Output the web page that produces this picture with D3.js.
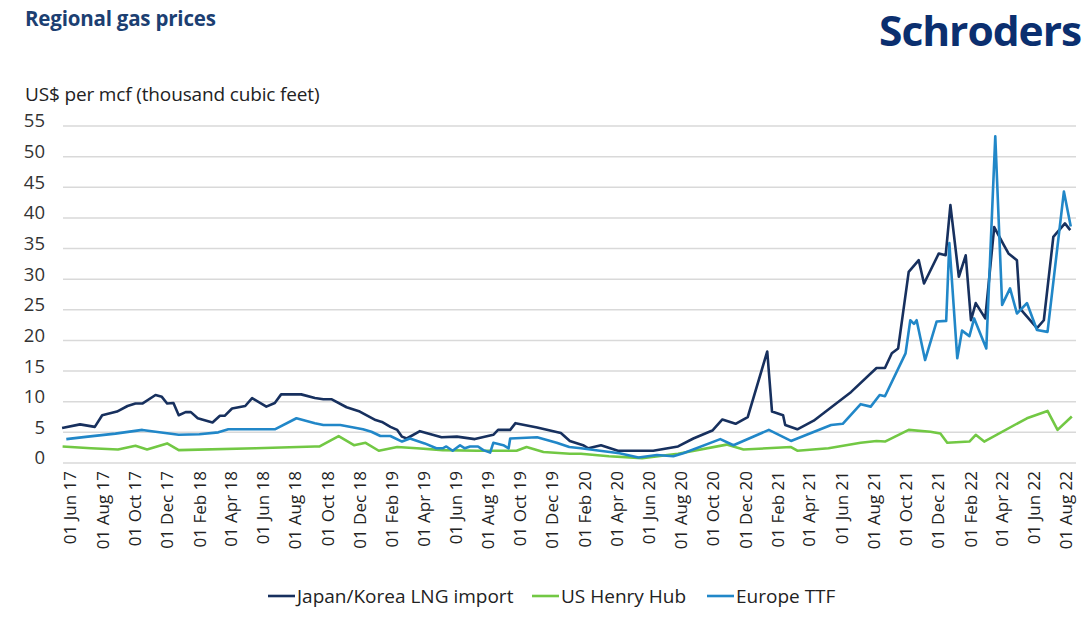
<!DOCTYPE html>
<html>
<head>
<meta charset="utf-8">
<script src="https://cdn.jsdelivr.net/npm/d3@7"></script>
<style>
  html, body { margin: 0; padding: 0; background: #fff; }
  svg { display: block; font-family: "Open Sans", "Noto Sans", sans-serif; }
</style>
</head>
<body>
<svg id="chart" width="1090" height="620"></svg>
<script>
// ---------- DATA ----------
const japanKorea = [
  ["2017-05-17",5.7],["2017-06-20",6.3],["2017-07-18",5.9],["2017-08-01",7.8],["2017-08-29",8.4],
  ["2017-09-18",9.3],["2017-10-03",9.7],["2017-10-16",9.7],["2017-11-10",11.1],["2017-11-22",10.8],
  ["2017-12-02",9.7],["2017-12-14",9.8],["2017-12-24",7.8],["2018-01-06",8.3],["2018-01-16",8.3],
  ["2018-01-29",7.3],["2018-02-26",6.6],["2018-03-12",7.7],["2018-03-21",7.7],["2018-04-04",8.9],
  ["2018-04-29",9.3],["2018-05-12",10.6],["2018-06-08",9.2],["2018-06-24",9.8],["2018-07-06",11.2],
  ["2018-08-13",11.2],["2018-09-08",10.6],["2018-09-24",10.4],["2018-10-10",10.4],["2018-11-07",9.1],
  ["2018-12-02",8.4],["2019-01-01",7.0],["2019-01-13",6.7],["2019-01-29",5.9],["2019-02-11",5.4],
  ["2019-02-20",4.3],["2019-03-01",4.0],["2019-03-26",5.2],["2019-05-06",4.2],["2019-06-04",4.3],
  ["2019-07-08",3.9],["2019-08-12",4.6],["2019-08-21",5.4],["2019-09-13",5.4],["2019-09-23",6.5],
  ["2019-11-03",5.8],["2019-12-18",4.9],["2020-01-04",3.6],["2020-01-29",2.9],["2020-02-08",2.4],
  ["2020-03-03",2.9],["2020-04-04",2.0],["2020-06-10",2.0],["2020-07-27",2.7],["2020-08-25",4.0],
  ["2020-09-30",5.3],["2020-10-19",7.1],["2020-11-13",6.4],["2020-12-06",7.5],["2021-01-12",18.2],
  ["2021-01-21",8.4],["2021-02-11",7.8],["2021-02-15",6.2],["2021-03-10",5.5],["2021-04-10",6.9],
  ["2021-06-20",11.6],["2021-08-07",15.5],["2021-08-23",15.5],["2021-09-05",17.9],["2021-09-17",18.7],
  ["2021-10-07",31.2],["2021-10-26",33.1],["2021-11-05",29.3],["2021-12-03",34.2],["2021-12-16",33.9],
  ["2021-12-25",42.1],["2022-01-10",30.4],["2022-01-23",33.9],["2022-02-02",23.3],["2022-02-11",26.1],
  ["2022-03-01",23.6],["2022-03-18",38.5],["2022-04-05",35.6],["2022-04-14",34.2],["2022-04-30",33.1],
  ["2022-05-06",25.2],["2022-05-22",23.6],["2022-06-07",22.0],["2022-06-20",23.3],["2022-07-08",36.9],
  ["2022-07-30",39.1],["2022-08-09",38.0]
];
const henryHub = [
  ["2017-05-18",2.7],["2017-07-11",2.4],["2017-08-31",2.2],["2017-10-03",2.8],["2017-10-25",2.2],
  ["2017-12-02",3.2],["2017-12-24",2.1],["2018-05-19",2.4],["2018-09-08",2.7],["2018-09-17",2.7],
  ["2018-10-23",4.4],["2018-11-21",2.9],["2018-12-13",3.3],["2019-01-07",2.0],["2019-02-11",2.6],
  ["2019-03-20",2.4],["2019-05-08",2.1],["2019-07-12",2.0],["2019-09-25",2.0],["2019-10-14",2.6],
  ["2019-11-15",1.8],["2020-01-04",1.5],["2020-01-25",1.5],["2020-03-18",1.1],["2020-05-20",0.8],
  ["2020-07-27",1.5],["2020-10-27",3.0],["2020-11-28",2.2],["2021-02-26",2.6],["2021-03-10",2.0],
  ["2021-05-08",2.4],["2021-07-08",3.3],["2021-08-07",3.6],["2021-08-23",3.5],["2021-10-07",5.4],
  ["2021-11-17",5.1],["2021-12-06",4.8],["2021-12-19",3.3],["2022-01-30",3.5],["2022-02-11",4.6],
  ["2022-02-27",3.5],["2022-05-19",7.3],["2022-06-27",8.5],["2022-07-16",5.4],["2022-08-12",7.6]
];
const europeTTF = [
  ["2017-05-25",3.9],["2017-07-05",4.3],["2017-08-26",4.8],["2017-10-16",5.4],["2017-11-10",5.1],
  ["2017-12-24",4.6],["2018-02-01",4.7],["2018-03-09",5.0],["2018-03-28",5.5],["2018-06-24",5.5],
  ["2018-08-04",7.3],["2018-09-08",6.5],["2018-09-24",6.2],["2018-10-26",6.2],["2018-12-08",5.5],
  ["2018-12-24",5.1],["2019-01-10",4.4],["2019-01-29",4.4],["2019-02-20",3.5],["2019-03-07",4.0],
  ["2019-04-04",3.2],["2019-04-26",2.4],["2019-05-08",2.4],["2019-05-15",2.7],["2019-05-27",2.0],
  ["2019-06-10",2.9],["2019-06-19",2.4],["2019-06-29",2.7],["2019-07-14",2.7],["2019-07-24",2.1],
  ["2019-08-06",1.7],["2019-08-12",3.3],["2019-08-31",2.9],["2019-09-10",2.4],["2019-09-13",4.0],
  ["2019-11-03",4.2],["2019-12-10",3.3],["2020-01-03",2.6],["2020-01-25",2.4],["2020-03-01",2.0],
  ["2020-04-07",1.6],["2020-05-13",0.9],["2020-06-17",1.3],["2020-07-18",1.1],["2020-08-06",1.6],
  ["2020-10-15",3.9],["2020-11-09",2.9],["2021-01-15",5.4],["2021-02-26",3.6],["2021-05-13",6.2],
  ["2021-06-04",6.4],["2021-07-08",9.6],["2021-07-27",9.2],["2021-08-13",11.1],["2021-08-23",10.9],
  ["2021-10-01",17.9],["2021-10-10",23.3],["2021-10-17",22.7],["2021-10-22",23.3],["2021-11-07",16.8],
  ["2021-11-29",23.1],["2021-12-17",23.2],["2021-12-23",35.9],["2022-01-07",17.1],["2022-01-16",21.6],
  ["2022-01-30",20.7],["2022-02-08",23.6],["2022-03-03",18.7],["2022-03-20",53.3],["2022-04-02",25.8],
  ["2022-04-17",28.5],["2022-04-30",24.4],["2022-05-19",26.1],["2022-06-07",21.7],["2022-06-27",21.4],
  ["2022-07-28",44.3],["2022-08-10",38.6]
];
const seriesNames = ["Japan/Korea LNG import", "US Henry Hub", "Europe TTF"];
const yTicks = [0, 5, 10, 15, 20, 25, 30, 35, 40, 45, 50, 55];
const xTickDates = [
  "2017-06-01","2017-08-01","2017-10-01","2017-12-01","2018-02-01","2018-04-01","2018-06-01","2018-08-01",
  "2018-10-01","2018-12-01","2019-02-01","2019-04-01","2019-06-01","2019-08-01","2019-10-01","2019-12-01",
  "2020-02-01","2020-04-01","2020-06-01","2020-08-01","2020-10-01","2020-12-01","2021-02-01","2021-04-01",
  "2021-06-01","2021-08-01","2021-10-01","2021-12-01","2022-02-01","2022-04-01","2022-06-01","2022-08-01"
];
const titleText = "Regional gas prices";
const unitText = "US$ per mcf (thousand cubic feet)";
const logoText = "Schroders";

// ---------- SETUP ----------
const parse = d3.timeParse("%Y-%m-%d");
const fmt = d3.timeFormat("%d %b %y");
const colors = ["#17305e", "#72c844", "#2187c8"];
const svg = d3.select("#chart");

const x = d3.scaleTime()
  .domain([parse("2017-06-01"), parse("2022-08-01")])
  .range([70, 1066]);
const y = d3.scaleLinear().domain([0, 55]).range([463, 126]);

// title & logo
svg.append("text").attr("x", 25).attr("y", 26)
  .attr("font-size", 20.5).attr("font-weight", 700).attr("fill", "#1c3f72")
  .attr("letter-spacing", -0.2)
  .text(titleText);
svg.append("text").attr("x", 879).attr("y", 46)
  .attr("font-size", 41).attr("font-weight", 700).attr("fill", "#0b2f6f")
  .attr("letter-spacing", -1)
  .attr("textLength", 202).attr("lengthAdjust", "spacingAndGlyphs")
  .text(logoText);
svg.append("text").attr("x", 25).attr("y", 101)
  .attr("font-size", 19).attr("fill", "#222")
  .attr("letter-spacing", -0.15)
  .text(unitText);

// gridlines
const grid = svg.append("g");
grid.selectAll("line").data(yTicks).join("line")
  .attr("x1", 63).attr("x2", 1076)
  .attr("y1", d => y(d)).attr("y2", d => y(d))
  .attr("stroke", "#d9d9d9").attr("stroke-width", 1.5);

// y axis labels
const yAxis = d3.axisLeft(y).tickValues(yTicks).tickSize(0).tickPadding(0);
const yg = svg.append("g").attr("transform", "translate(45,-5)").call(yAxis);
yg.select(".domain").remove();
yg.selectAll("text").attr("font-size", 18.5).attr("fill", "#333")
  .attr("font-family", "'Open Sans', sans-serif");

// x axis labels
const xAxis = d3.axisBottom(x).tickValues(xTickDates.map(parse)).tickFormat(fmt).tickSize(0);
const xg = svg.append("g").attr("transform", "translate(0,468)").call(xAxis);
xg.select(".domain").remove();
xg.selectAll("text")
  .attr("font-size", 17).attr("fill", "#222")
  .attr("font-family", "'Open Sans', sans-serif")
  .attr("text-anchor", "end")
  .attr("transform", "rotate(-90)")
  .attr("x", -3).attr("y", 0).attr("dy", "0.35em");

// lines
const line = d3.line().x(d => x(parse(d[0]))).y(d => y(d[1]));
const allSeries = [japanKorea, henryHub, europeTTF];
const order = [1, 0, 2];
order.forEach(i => {
  svg.append("path").datum(allSeries[i])
    .attr("d", line)
    .attr("fill", "none")
    .attr("stroke", colors[i])
    .attr("stroke-width", 2.6)
    .attr("stroke-linejoin", "round");
});

// legend
const legendX = [268, 532, 707];
const lg = svg.append("g");
seriesNames.forEach((name, i) => {
  lg.append("line").attr("x1", legendX[i]).attr("x2", legendX[i] + 27)
    .attr("y1", 596).attr("y2", 596)
    .attr("stroke", colors[i]).attr("stroke-width", 2.6);
  lg.append("text").attr("x", legendX[i] + 29).attr("y", 596).attr("dy", "0.35em")
    .attr("font-size", 19).attr("fill", "#222").attr("letter-spacing", 0).text(name);
});
</script>
</body>
</html>
